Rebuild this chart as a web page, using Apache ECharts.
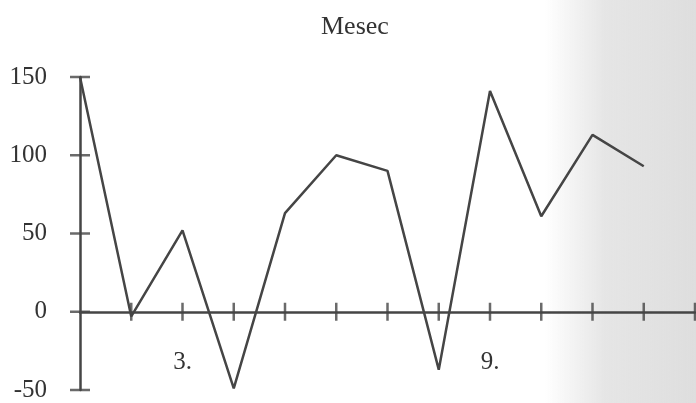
<!DOCTYPE html>
<html>
<head>
<meta charset="utf-8">
<script src="https://cdn.jsdelivr.net/npm/echarts@6/dist/echarts.min.js"></script>
<style>
  html, body { margin: 0; padding: 0; background: #fff; }
  #container { width: 696px; height: 403px; }
</style>
</head>
<body>
<div id="container"></div>
<script>
// months 1..12, plus the end tick of the axis
const months = ['1', '2', '3', '4', '5', '6', '7', '8', '9', '10', '11', '12', '13'];
const values = [150, -3, 52, -49, 63, 100, 90, -37, 141, 61, 113, 93];
const shownLabels = { '3': '3.', '9': '9.' };
const yTickValues = [-50, 0, 50, 100, 150];

const ink = '#454545';
const font = "'Liberation Serif', 'DejaVu Serif', serif";

var dom = document.getElementById('container');
var myChart = echarts.init(dom, null, { renderer: 'canvas' });

const lineStyle = { color: ink, width: 2.5 };

// tick marks that cross the axes, drawn as small rects at data positions
var xTickMarks = months.slice(1).map(function (m) { return [m, 0]; });
var yTickMarks = yTickValues.map(function (v) { return [months[0], v]; });

var option = {
    animation: false,
    title: {
        text: 'Mesec',
        left: 316,
        top: 9,
        textStyle: { fontFamily: font, fontSize: 26, fontWeight: 'normal', color: '#333' }
    },
    graphic: [
        {
            type: 'rect',
            z: -10,
            silent: true,
            shape: { x: 545, y: 0, width: 151, height: 403 },
            style: {
                fill: new echarts.graphic.LinearGradient(0, 0, 1, 0, [
                    { offset: 0, color: 'rgba(225,225,225,0)' },
                    { offset: 0.4, color: 'rgba(225,225,225,0.85)' },
                    { offset: 1, color: 'rgba(222,222,222,1)' }
                ])
            }
        }
    ],
    grid: { left: 80, right: 1, top: 77, bottom: 13, outerBoundsMode: 'none', containLabel: false },
    xAxis: {
        type: 'category',
        boundaryGap: false,
        data: months,
        axisLine: { show: true, onZero: true, lineStyle: lineStyle },
        axisTick: { show: false },
        axisLabel: {
            interval: 0,
            margin: -40,
            fontFamily: font,
            fontSize: 25,
            color: '#333',
            formatter: function (v) { return shownLabels[v] || ''; }
        },
        splitLine: { show: false }
    },
    yAxis: {
        type: 'value',
        min: -50,
        max: 150,
        interval: 50,
        axisLine: { show: true, lineStyle: lineStyle },
        axisTick: { show: false },
        axisLabel: { margin: 33, fontFamily: font, fontSize: 25, color: '#333' },
        splitLine: { show: false }
    },
    series: [
        {
            name: 'Mesec',
            type: 'line',
            data: values,
            symbol: 'none',
            lineStyle: { color: ink, width: 2.5 },
            z: 3
        },
        {
            type: 'scatter',
            data: xTickMarks,
            symbol: 'rect',
            symbolSize: [2.5, 18],
            itemStyle: { color: ink },
            silent: true,
            z: 4
        },
        {
            type: 'scatter',
            data: yTickMarks,
            symbol: 'rect',
            symbolSize: [20, 2.5],
            itemStyle: { color: ink },
            silent: true,
            z: 4
        }
    ]
};

myChart.setOption(option);
window.addEventListener('resize', myChart.resize);
</script>
</body>
</html>
